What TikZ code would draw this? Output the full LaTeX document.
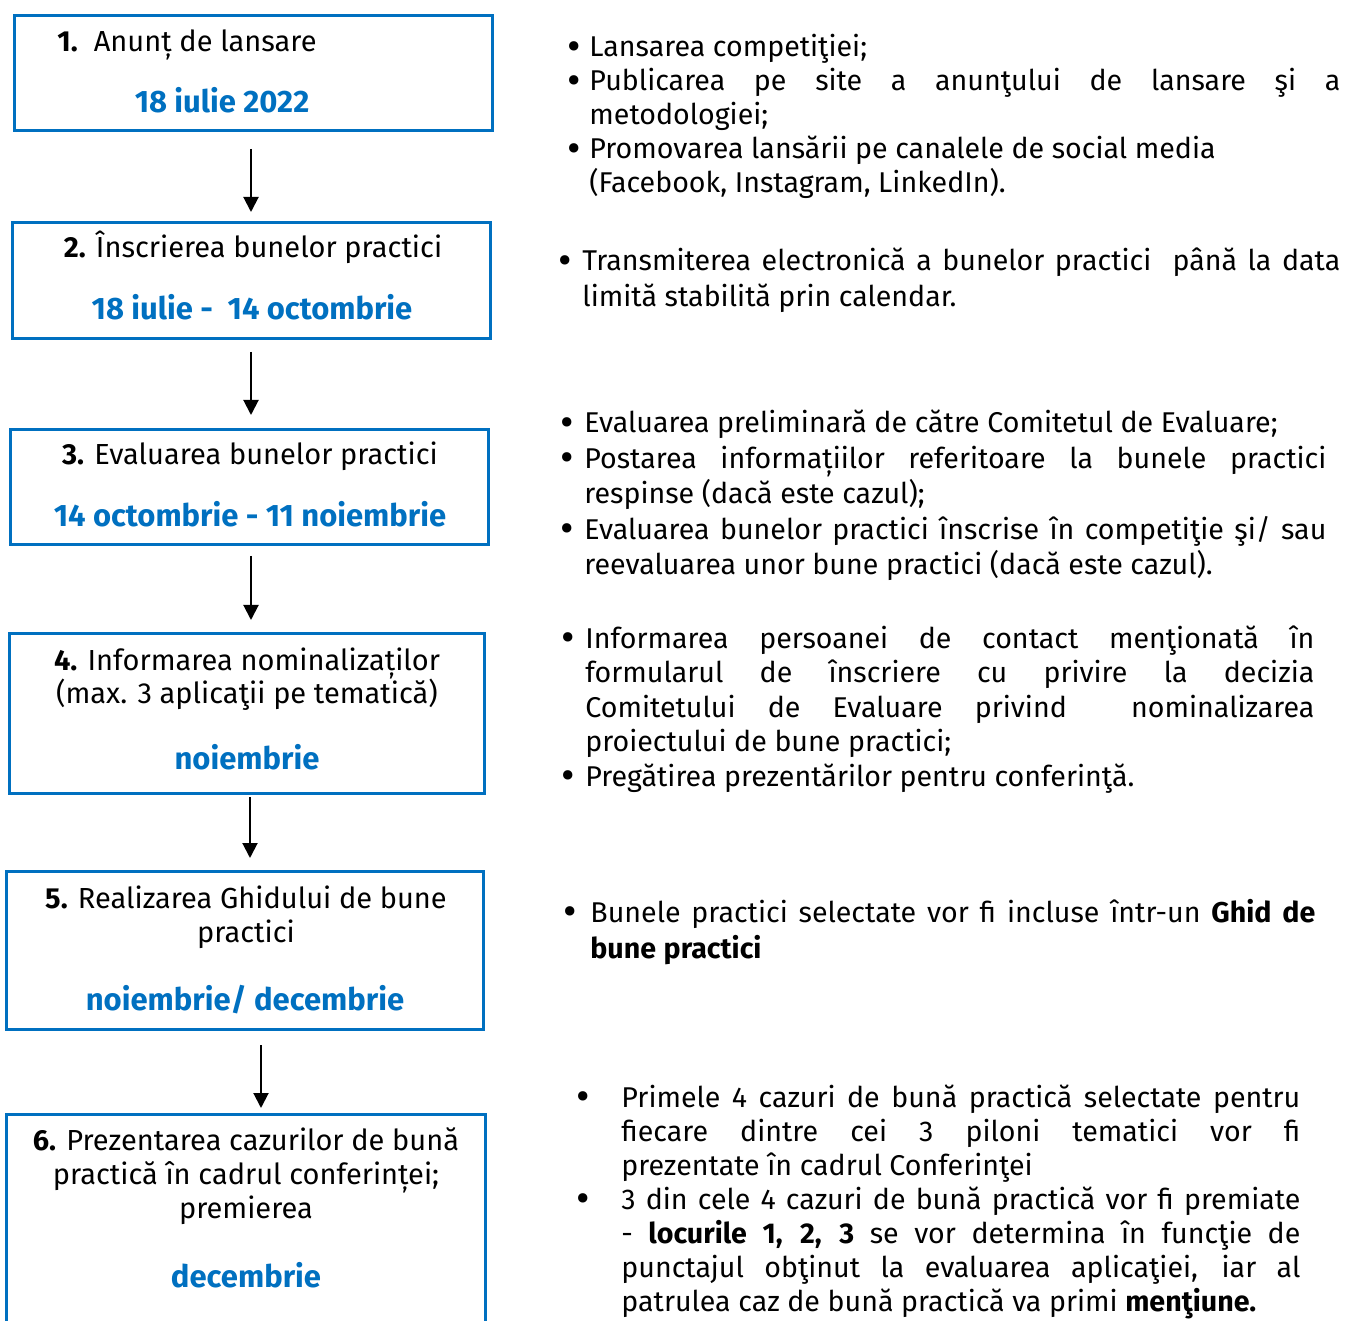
\documentclass[tikz,border=0pt]{standalone}
\usepackage{fontspec}
\setmainfont{Fira Sans}
\usetikzlibrary{positioning, arrows.meta, calc}
\definecolor{stageblue}{HTML}{0070C0}
% bullet hanging left of the text
\newcommand\bul[1][4.25pt]{\noindent\llap{\raisebox{-1.6pt}{\scalebox{1.45}{\textbullet}}\hspace{#1}}\ignorespaces}
% justified block, lines ended by hand
\newcommand\infobox[2]{\parbox[t]{#1}{\spaceskip=\fontdimen2\font plus .6em minus .15em\relax\tolerance=9999\relax #2}}
\tikzset{
    x=0.5pt, y=-0.5pt, % one unit = one pixel of the page
    stage/.style={draw=stageblue, line width=1.5pt, inner sep=0pt}, % step boxes
    title/.style={anchor=base, align=center, inner sep=0pt, font=\fontsize{14.5}{17}\selectfont},
    date/.style={anchor=base, inner sep=0pt, text=stageblue, font=\fontsize{15.5}{17}\selectfont\bfseries},
    info/.style={anchor=base west, inner sep=0pt, font=\fontsize{14.3}{#1}\selectfont},
    info/.default=17pt,
    flow/.style={-{Triangle[width=7.5pt,length=7.5pt]}, line width=1pt},
}
\begin{document}
\begin{tikzpicture}
    \useasboundingbox (0,0) rectangle (1346,1321);
    % Boxes
    \node[stage, minimum width=239pt, minimum height=57.5pt] (b1) at (253.5,73) {};
    \node[stage, minimum width=239pt, minimum height=58pt] (b2) at (251.5,280.5) {};
    \node[stage, minimum width=239pt, minimum height=57.5pt] (b3) at (249.5,487) {};
    \node[stage, minimum width=237.5pt, minimum height=80pt] (b4) at (247,713.5) {};
    \node[stage, minimum width=238.5pt, minimum height=79pt] (b5) at (245,950.5) {};
    \node[stage, minimum width=239.5pt, minimum height=142.5pt] (b6) at (246,1257) {};

    % Titles and dates
    \node[title, anchor=base west] (tt1) at (57,52) {\textbf{1.}\hspace{8pt}Anunț de lansare};
    \node[date] (d1) at (222,113) {18 iulie 2022};
    \node[title] (tt2) at (253,258) {\textbf{2.} Înscrierea bunelor practici};
    \node[date] (d2) at (252,320) {18 iulie -~ 14 octombrie};
    \node[title] (tt3) at (250,465) {\textbf{3.} Evaluarea bunelor practici};
    \node[date] (d3) at (250,527) {14 octombrie - 11 noiembrie};
    \node[title] (tt4) at (247,704) {\textbf{4.} Informarea nominalizaților\\(max. 3 aplicaţii pe tematică)};
    \node[date] (d4) at (247,769) {noiembrie};
    \node[title] (tt5) at (246,942) {\textbf{5.} Realizarea Ghidului de bune\\practici};
    \node[date] (d5) at (245,1010) {noiembrie/ decembrie};
    \node[title] (tt6) at (246,1218) {\textbf{6.} Prezentarea cazurilor de bună\\practică în cadrul conferinței;\\premierea};
    \node[date] (d6) at (246,1287) {decembrie};

    % Arrows
    \draw[flow] ($(b1.south)+(-2.5,17)$) -- ($(b2.north)+(-0.5,-9)$);
    \draw[flow] ($(b2.south)+(-0.5,12)$) -- ($(b3.north)+(1.5,-13)$);
    \draw[flow] ($(b3.south)+(1.5,10)$) -- ($(b4.north)+(4,-12)$);
    \draw[flow] ($(b4.south)+(3,2)$) -- ($(b5.north)+(5,-12)$);
    \draw[flow] ($(b5.south)+(16,14)$) -- ($(b6.north)+(15,-5)$);

    % Activities
    \node[info] (t1) at (589,57) {\infobox{375.5pt}{%
        \bul Lansarea competiţiei;
        \par\bul Publicarea pe site a anunţului de lansare şi a\linebreak metodologiei;
        \par\bul Promovarea lansării pe canalele de social media\newline (Facebook, Instagram, LinkedIn).}};
    \node[info=18pt] (t2) at (582,271) {\infobox{379pt}{%
        \bul[5.25pt]Transmiterea electronică a bunelor practici~ până la data\linebreak limită stabilită prin calendar.}};
    \node[info=17.7pt] (t3) at (584,433) {\infobox{371pt}{%
        \bul[5.25pt]Evaluarea preliminară de către Comitetul de Evaluare;
        \par\bul[5.25pt]Postarea informațiilor referitoare la bunele practici\linebreak respinse (dacă este cazul);
        \par\bul[5.25pt]Evaluarea bunelor practici înscrise în competiţie şi/ sau\linebreak reevaluarea unor bune practici (dacă este cazul).}};
    \node[info=17.3pt] (t4) at (585,648) {\infobox{364.5pt}{%
        \bul[5.25pt]Informarea persoanei de contact menţionată în\linebreak formularul de înscriere cu privire la decizia\linebreak Comitetului de Evaluare privind~ nominalizarea\linebreak proiectului de bune practici;
        \par\bul[5.25pt]Pregătirea prezentărilor pentru conferinţă.}};
    \node[info=18pt] (t5) at (590,922) {\infobox{362.5pt}{%
        \bul[6.75pt]Bunele practici selectate vor fi incluse într-un \textbf{Ghid de}\linebreak \textbf{bune practici}}};
    \node[info] (t6) at (621,1107) {\infobox{339.5pt}{%
        \bul[15.75pt]Primele 4 cazuri de bună practică selectate pentru\linebreak fiecare dintre cei 3 piloni tematici vor fi\linebreak prezentate în cadrul Conferinţei
        \par\bul[15.75pt]3 din cele 4 cazuri de bună practică vor fi premiate\linebreak - \textbf{locurile 1, 2, 3} se vor determina în funcţie de\linebreak punctajul obţinut la evaluarea aplicaţiei, iar al\linebreak patrulea caz de bună practică va primi \textbf{menţiune.}}};
\end{tikzpicture}
\end{document}
